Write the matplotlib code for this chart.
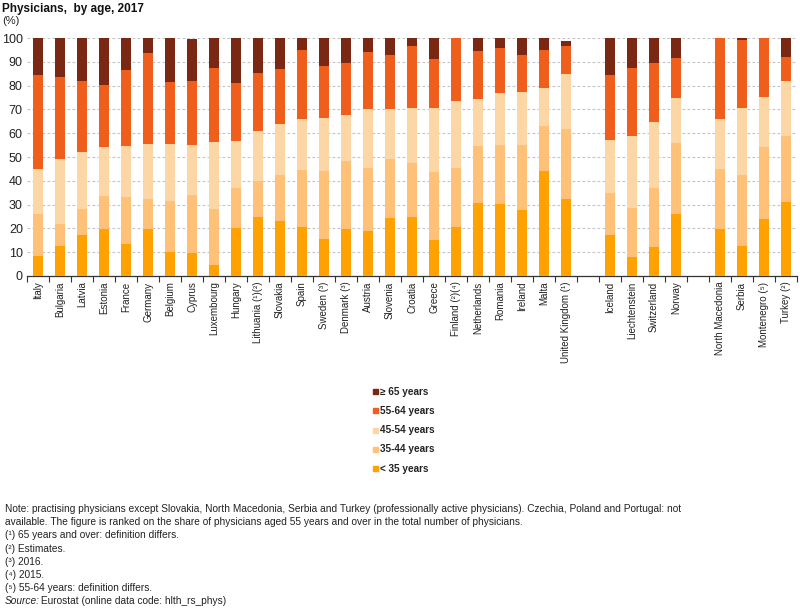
import matplotlib
matplotlib.use("Agg")
import matplotlib.pyplot as plt
import numpy as np
from matplotlib.patches import Rectangle

plt.rcParams['font.family'] = ['Liberation Sans', 'DejaVu Sans']

countries = ["Italy", "Bulgaria", "Latvia", "Estonia", "France", "Germany", "Belgium",
             "Cyprus", "Luxembourg", "Hungary", "Lithuania (¹)(²)", "Slovakia", "Spain",
             "Sweden (³)", "Denmark (³)", "Austria", "Slovenia", "Croatia", "Greece",
             "Finland (²)(⁴)", "Netherlands", "Romania", "Ireland", "Malta",
             "United Kingdom (¹)", "", "Iceland", "Liechtenstein", "Switzerland", "Norway",
             "", "North Macedonia", "Serbia", "Montenegro (⁵)", "Turkey (²)"]

u35 = [8.4, 12.6, 17.2, 19.7, 13.4, 19.7, 10.1, 9.5, 4.6, 20.1, 24.9, 23.0, 20.6,
       15.5, 19.7, 18.9, 24.3, 24.9, 15.1, 20.6, 30.8, 30.4, 27.7, 44.1, 32.3, 0,
       17.2, 8.1, 12.3, 26.0, 0, 19.6, 12.7, 23.9, 31.0]
a35_44 = [17.6, 9.2, 11.1, 14.0, 19.6, 12.5, 21.5, 24.5, 23.4, 17.0, 15.0, 19.5, 23.9,
          28.6, 28.6, 26.4, 24.8, 22.4, 28.7, 24.7, 23.9, 24.6, 27.3, 19.0, 29.3, 0,
          17.8, 20.3, 24.8, 29.9, 0, 25.3, 29.8, 30.1, 27.7]
a45_54 = [18.9, 27.3, 23.9, 20.3, 21.7, 23.2, 23.8, 20.9, 28.2, 19.5, 20.9, 21.3, 21.4,
          22.1, 19.3, 24.9, 21.1, 23.2, 26.7, 28.1, 19.6, 21.7, 22.4, 16.0, 23.2, 0,
          22.1, 30.3, 27.4, 19.1, 0, 21.0, 28.2, 21.2, 23.2]
a55_64 = [39.4, 34.5, 29.7, 26.3, 32.0, 38.5, 26.3, 27.0, 31.4, 24.4, 24.7, 23.3, 28.9,
          21.9, 21.9, 23.9, 22.5, 26.0, 20.6, 26.6, 20.2, 19.0, 15.5, 15.7, 11.9, 0,
          27.2, 28.7, 25.0, 16.5, 0, 34.1, 28.6, 24.8, 10.0]
o65 = [15.7, 16.4, 18.1, 19.7, 13.3, 6.1, 18.3, 17.6, 12.4, 19.0, 14.5, 12.9, 5.2,
       11.9, 10.5, 5.9, 7.3, 3.5, 8.9, 0.0, 5.5, 4.3, 7.1, 5.2, 1.9, 0,
       15.7, 12.6, 10.5, 8.5, 0, 0.0, 0.7, 0.0, 8.1]

series = [("< 35 years", u35, '#FFA100'),
          ("35-44 years", a35_44, '#FEC177'),
          ("45-54 years", a45_54, '#FDD6A6'),
          ("55-64 years", a55_64, '#EF5F1B'),
          ("≥ 65 years", o65, '#7A2814')]

fig = plt.figure(figsize=(8, 6.09), dpi=100)
ax = fig.add_axes([0.03375, 0.5468, 0.9625, 0.3908])

x = np.arange(len(countries))
bottom = np.zeros(len(countries))
for name, vals, col in series:
    v = np.array(vals)
    ax.bar(x, v, width=0.42, bottom=bottom, color=col, edgecolor='none', zorder=3)
    bottom += v

ax.set_xlim(-0.5, len(countries) - 0.5)
ax.set_ylim(0, 100)
ax.set_yticks(np.arange(0, 101, 10))
ax.yaxis.grid(True, linestyle=(0, (2.5, 2)), color='#C4C4C4', linewidth=0.8, zorder=0)
ax.tick_params(axis='y', length=0, labelsize=9, pad=3, colors='#222222')
for s in ['left', 'right', 'top']:
    ax.spines[s].set_visible(False)
ax.spines['bottom'].set_color('#333333')
ax.spines['bottom'].set_linewidth(0.9)

ax.set_xticks(x)
ax.set_xticklabels(countries, rotation=90, fontsize=7, va='top', ha='center', color='#222222')
ax.tick_params(axis='x', which='major', length=0, pad=4)
ax.set_xticks(np.arange(-0.5, len(countries), 1.0), minor=True)
ax.tick_params(axis='x', which='minor', length=4, width=0.8, color='#333333')

fig.text(0.003, 0.985, "Physicians,  by age, 2017", fontsize=8.5, fontweight='bold',
         ha='left', va='center', color='#111111')
fig.text(0.003, 0.966, "(%)", fontsize=8, ha='left', va='center', color='#222222')

# legend
leg_items = [("≥ 65 years", '#7A2814'), ("55-64 years", '#EF5F1B'),
             ("45-54 years", '#FDD6A6'), ("35-44 years", '#FEC177'),
             ("< 35 years", '#FFA100')]
W, H = 800, 609
ys = [391.7, 410.9, 430.1, 449.3, 468.5]
for (lab, col), yy in zip(leg_items, ys):
    fig.patches.append(Rectangle((373 / W, 1 - (yy + 2.5) / H), 5 / W, 5 / H,
                                 transform=fig.transFigure, color=col, figure=fig))
    fig.text(380 / W, 1 - yy / H, lab, fontsize=7.2, fontweight='bold',
             ha='left', va='center', color='#222222')

notes = ["Note: practising physicians except Slovakia, North Macedonia, Serbia and Turkey (professionally active physicians). Czechia, Poland and Portugal: not",
         "available. The figure is ranked on the share of physicians aged 55 years and over in the total number of physicians.",
         "(¹) 65 years and over: definition differs.",
         "(²) Estimates.",
         "(³) 2016.",
         "(⁴) 2015.",
         "(⁵) 55-64 years: definition differs."]
ny = 509
for n in notes:
    fig.text(5 / W, 1 - ny / H, n, fontsize=7.3, ha='left', va='center', color='#222222')
    ny += 13.2
fig.text(5 / W, 1 - ny / H, "Source:", fontsize=7.3, style='italic', ha='left',
         va='center', color='#222222')
fig.text(38 / W, 1 - ny / H, " Eurostat (online data code: hlth_rs_phys)", fontsize=7.3,
         ha='left', va='center', color='#222222')

fig.savefig("out.png", dpi=100)
